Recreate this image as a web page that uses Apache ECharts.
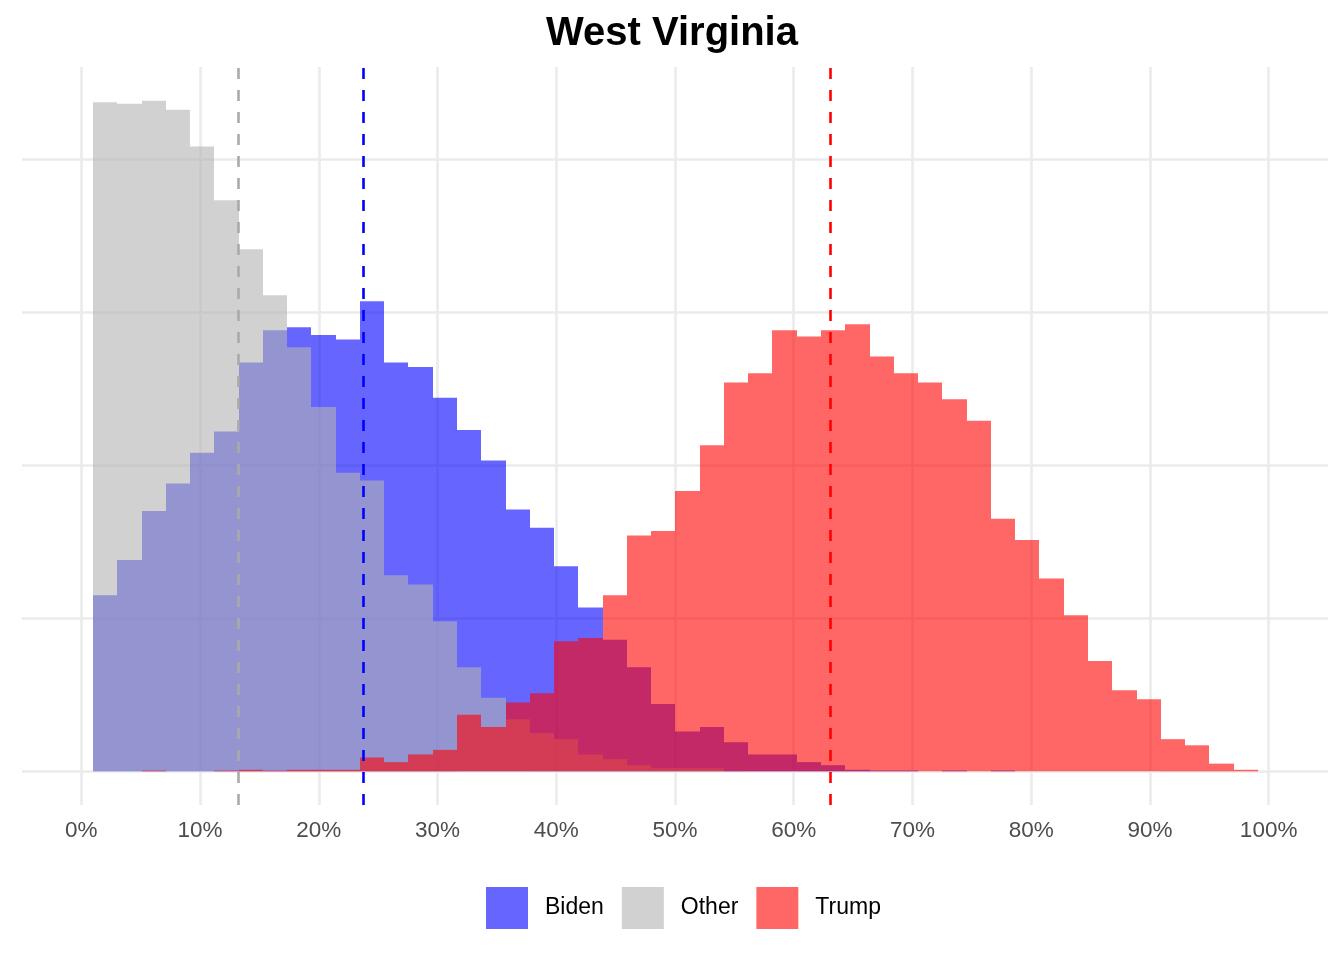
<!DOCTYPE html>
<html>
<head>
<meta charset="utf-8">
<script src="https://cdn.jsdelivr.net/npm/echarts@6/dist/echarts.min.js"></script>
<style>
html,body{margin:0;padding:0;background:#fff;}
#chart{width:1344px;height:960px;}
</style>
</head>
<body>
<div id="chart"></div>
<script>
// Histogram bins (percent of vote), 48 bins
const binStart = 0.98;
const binWidth = 2.044;
const seriesNames = ['Biden', 'Other', 'Trump'];
const biden = [115,138,170,188,208,222,267,288,290,285,282,307,267,264,244,223,203,171,159,134,107,86,68,44,26,29,19,11,11,6,4,1,0.5,0.5,0,0.5,0,0.5,0,0,0,0,0,0,0,0,0,0];
const other = [437,436,438,432,408,373,341,311,277,238,195,190,128,122,98,68,48,34,25,21,11,8,4,2,2,2,0.3,0,0,0,0,0,0,0,0,0,0,0,0,0,0,0,0,0,0,0,0,0];
const trump = [0,0,0.5,0,0,0.5,1,0.5,1,1,1,9,6,11,14,37,29,45,51,85,87,115,154,157,183,213,254,260,288,284,288,292,271,260,254,243,229,165,151,126,102,72,53,47,21,17,5,1];
const means = [23.75, 13.25, 63.09]; // Biden, Other, Trump
const xTickLabels = ['0%','10%','20%','30%','40%','50%','60%','70%','80%','90%','100%'];

const fills = ['rgba(0,0,255,0.6)', 'rgba(179,179,179,0.6)', 'rgba(255,0,0,0.6)'];
const meanColors = ['#0000ff', '#aaaaaa', '#ff0000'];
const FONT = '"Liberation Sans", Arial, Helvetica, sans-serif';

function toData(arr) {
  return arr.map((v, i) => [binStart + (i + 0.5) * binWidth, v, i]);
}

function renderBin(params, api) {
  const i = api.value(2);
  const v = api.value(1);
  if (!(v > 0)) return null;
  const x0 = binStart + i * binWidth;
  const x1 = x0 + binWidth;
  const p0 = api.coord([x0, v]);
  const p1 = api.coord([x1, 0]);
  const left = Math.round(p0[0]);
  const right = Math.round(p1[0]);
  return {
    type: 'rect',
    shape: { x: left, y: p0[1], width: right - left, height: p1[1] - p0[1] },
    style: { fill: api.visual('color') }
  };
}

const allData = [biden, other, trump];
const series = seriesNames.map((name, k) => ({
  name: name,
  type: 'custom',
  renderItem: renderBin,
  encode: { x: 0, y: 1 },
  data: toData(allData[k]),
  itemStyle: { color: fills[k] },
  silent: true,
  markLine: {
    silent: true,
    symbol: ['none', 'none'],
    label: { show: false },
    z: 10,
    lineStyle: { color: meanColors[k], type: [11, 11], width: 2.6 },
    emphasis: { disabled: true },
    data: [{ xAxis: means[k] }]
  }
}));

const chart = echarts.init(document.getElementById('chart'), null, { renderer: 'canvas' });
chart.setOption({
  animation: false,
  backgroundColor: '#ffffff',
  title: {
    text: 'West Virginia',
    left: 'center',
    top: 9,
    textStyle: { fontFamily: FONT, fontSize: 40, fontWeight: 'bold', color: '#000000' }
  },
  legend: {
    data: seriesNames,
    left: 486,
    top: 887,
    padding: 0,
    itemWidth: 42,
    itemHeight: 42,
    itemGap: 18,
    icon: 'rect',
    selectedMode: false,
    textStyle: { fontFamily: FONT, fontSize: 23, color: '#000000', padding: [5, 0, 0, 12] }
  },
  grid: { left: 22, right: 16, top: 67, bottom: 155, containLabel: false },
  xAxis: {
    type: 'value',
    min: -5,
    max: 105,
    splitNumber: 11,
    axisLine: { show: false },
    axisTick: { show: false },
    splitLine: { show: true, showMinLine: false, showMaxLine: false, lineStyle: { color: '#ebebeb', width: 2.6 } },
    axisLabel: {
      show: true,
      showMinLabel: false,
      showMaxLabel: false,
      margin: 14,
      fontFamily: FONT,
      fontSize: 22.5,
      color: '#4d4d4d',
      formatter: function (v) {
        const idx = Math.round(v / 10);
        if (Math.abs(v - idx * 10) > 1e-6 || idx < 0 || idx >= xTickLabels.length) return '';
        return xTickLabels[idx];
      }
    }
  },
  yAxis: {
    type: 'value',
    min: -22,
    max: 460,
    splitNumber: 5,
    axisLine: { show: false },
    axisTick: { show: false },
    axisLabel: { show: false },
    splitLine: { show: true, showMinLine: false, showMaxLine: false, lineStyle: { color: '#ebebeb', width: 2.6 } }
  },
  series: series
});
</script>
</body>
</html>
